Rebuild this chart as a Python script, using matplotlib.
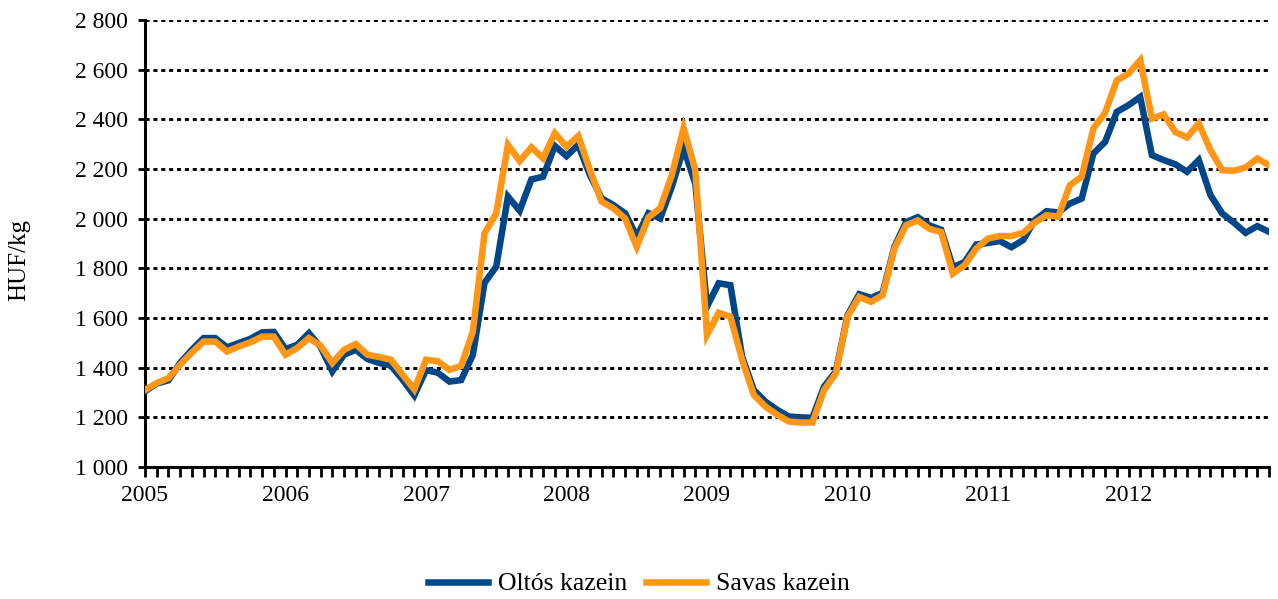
import numpy as np
import matplotlib
matplotlib.use("Agg")
import matplotlib.pyplot as plt
from matplotlib.ticker import FuncFormatter, MultipleLocator

plt.rcParams['font.family'] = ['Liberation Serif', 'DejaVu Serif']

# monthly prices, 2005-01 .. 2013-01 (HUF/kg)
years = ["2005", "2006", "2007", "2008", "2009", "2010", "2011", "2012"]

oltos = [1305, 1336, 1349, 1419, 1472, 1519, 1519, 1482, 1499, 1516, 1542, 1544,
         1475, 1492, 1539, 1483, 1385, 1452, 1472, 1435, 1419, 1408, 1352, 1288,
         1390, 1380, 1344, 1350, 1451, 1742, 1807, 2089, 2032, 2158, 2169, 2293,
         2252, 2297, 2176, 2082, 2055, 2022, 1928, 2022, 2001, 2129, 2283, 2142,
         1646, 1740, 1732, 1444, 1310, 1263, 1230, 1203, 1200, 1198, 1324, 1384,
         1611, 1696, 1681, 1701, 1886, 1986, 2006, 1973, 1955, 1805, 1825, 1896,
         1902, 1910, 1885, 1914, 1994, 2030, 2025, 2061, 2081, 2262, 2309, 2430,
         2457, 2490, 2256, 2236, 2219, 2189, 2236, 2095, 2021, 1984, 1943, 1970,
         1947]

savas = [1310, 1338, 1358, 1412, 1461, 1505, 1505, 1465, 1485, 1502, 1525, 1525,
         1452, 1479, 1519, 1488, 1419, 1472, 1495, 1452, 1443, 1432, 1372, 1312,
         1432, 1426, 1391, 1407, 1545, 1941, 2022, 2297, 2232, 2287, 2243, 2344,
         2290, 2333, 2196, 2069, 2042, 2001, 1887, 2005, 2042, 2176, 2364, 2196,
         1532, 1621, 1605, 1431, 1290, 1243, 1210, 1183, 1179, 1179, 1310, 1377,
         1605, 1685, 1665, 1692, 1879, 1973, 1993, 1959, 1946, 1779, 1812, 1880,
         1920, 1930, 1930, 1943, 1984, 2014, 2008, 2135, 2169, 2363, 2426, 2557,
         2584, 2638, 2403, 2420, 2349, 2327, 2383, 2276, 2195, 2193, 2206, 2242,
         2215]

months = np.arange(len(oltos))

fig = plt.figure(figsize=(12.78, 5.99), dpi=100)
ax = fig.add_axes([145 / 1278, 1 - 467 / 599, (1269 - 145) / 1278, (467 - 20) / 599])

ax.plot(months, oltos, color='#00478A', lw=4.7, label='Oltós kazein',
        solid_joinstyle='miter', zorder=3)
ax.plot(months, savas, color='#FF9616', lw=4.7, label='Savas kazein',
        solid_joinstyle='miter', zorder=4)

ax.set_xlim(0, len(oltos) - 1)
ax.set_ylim(1000, 2800)

# axis ticks
ax.set_xticks(np.arange(0, 12 * len(years), 12))
ax.set_xticklabels(years)
ax.xaxis.set_minor_locator(MultipleLocator(1))
ax.yaxis.set_major_locator(MultipleLocator(200))
ax.yaxis.set_major_formatter(FuncFormatter(lambda v, p: f"{int(v):,}".replace(",", " ")))

ax.tick_params(axis='x', which='both', direction='out', length=7, width=2, labelsize=17, pad=6)
ax.tick_params(axis='y', direction='out', length=5, width=2, labelsize=17, pad=7)

ax.grid(axis='y', color='black', lw=2.1, linestyle=(0, (1.4, 1.3)))
ax.set_axisbelow(True)

for s in ['top', 'right']:
    ax.spines[s].set_visible(False)
for s in ['left', 'bottom']:
    ax.spines[s].set_linewidth(2.2)

ax.set_ylabel('HUF/kg', fontsize=18)
ax.yaxis.set_label_coords(-0.102, 0.463)

fig.legend(loc='center', bbox_to_anchor=(0.5, 1 - 584 / 599), ncol=2, frameon=False,
           fontsize=18.5, handlelength=2.35, handletextpad=0.4, columnspacing=0.7)

fig.savefig('out.png', dpi=100)
